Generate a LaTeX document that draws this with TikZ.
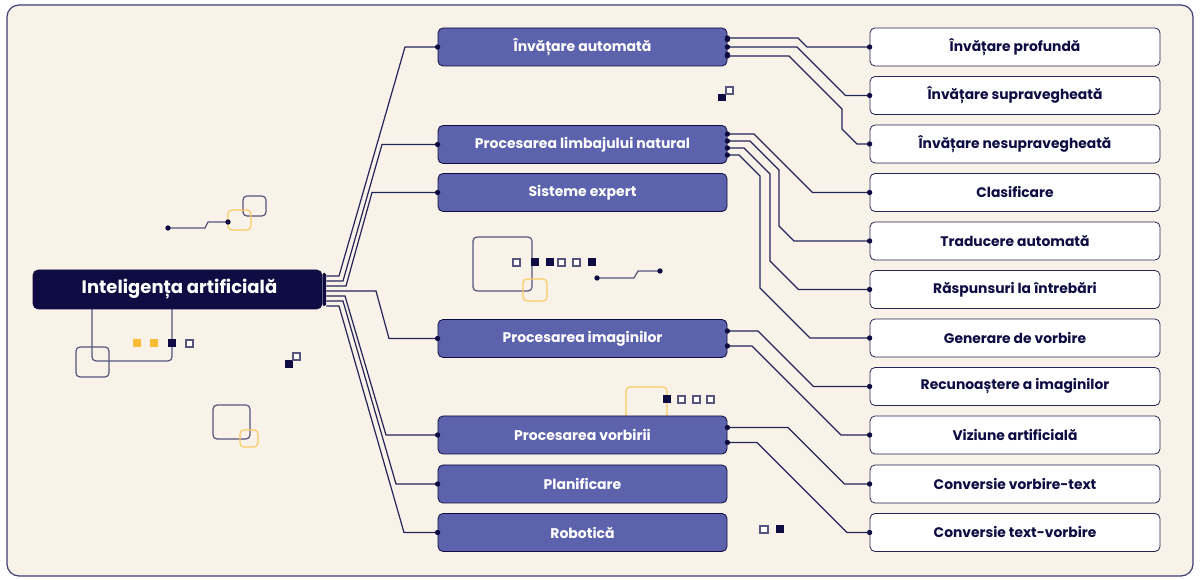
\documentclass[tikz,border=0pt]{standalone}
\usepackage{fontspec}
\setmainfont{Poppins}
\usetikzlibrary{calc}
\definecolor{navy}{HTML}{0E0C42}
\definecolor{cream}{HTML}{F9F2E8}
\definecolor{purp}{HTML}{5C62AB}
\definecolor{ylw}{HTML}{F9BC35}
\definecolor{ylwl}{HTML}{FACB63}
\definecolor{linec}{HTML}{25245A}
\definecolor{framec}{HTML}{3D3C73}
\definecolor{decoc}{HTML}{56557E}
\begin{document}
\begin{tikzpicture}[x=0.75pt,y=-0.75pt,
 rootbox/.style={fill=navy, draw=navy, rounded corners=3.75pt, minimum width=216.75pt, minimum height=29.25pt, inner sep=0pt, text=white, font=\bfseries\fontsize{13.5}{16}\selectfont},
 midbox/.style={fill=purp, draw=navy, line width=0.6pt, rounded corners=3.75pt, minimum width=216.75pt, minimum height=28.5pt, inner sep=0pt, text=white, font=\bfseries\fontsize{10.5}{13}\selectfont},
 leafbox/.style={fill=white, draw=navy!90, line width=0.6pt, rounded corners=3.75pt, minimum width=217.5pt, minimum height=28.5pt, inner sep=0pt, text=navy, font=\bfseries\fontsize{10.4}{12.5}\selectfont},
 conn/.style={draw=linec, line width=0.9pt},
 dot/.style={fill=navy},
 deco/.style={draw=decoc, line width=0.9pt, rounded corners=3pt},
 decoy/.style={draw=ylwl, line width=0.9pt, rounded corners=3pt},
 sqf/.style={fill=navy},
 sqo/.style={draw=decoc, fill=white, line width=0.8pt},
 sqy/.style={fill=ylw},
]
\useasboundingbox (0,0) rectangle (1200,580);
\fill[white] (0,0) rectangle (1200,580);
\draw[draw=framec, fill=cream, line width=0.9pt, rounded corners=9pt] (7,5) rectangle (1193,576);

% decorations
\draw[deco] (243,196) rectangle (266,216);
\draw[decoy] (228,210) rectangle (251,230);
\draw[deco, rounded corners=0pt] (168,228) -- (205,228) -- (208,222) -- (228,222);
\fill[navy] (168,228) circle[radius=2pt] (228,222) circle[radius=2pt];

\draw[deco] (92,305) -- (92,361) -- (172,361) -- (172,305);
\draw[deco] (76,347) rectangle (109,377);
\fill[sqy] (133,339) rectangle (141,347);
\fill[sqy] (150,339) rectangle (158,347);
\fill[sqf] (168,339) rectangle (176,347);
\draw[sqo] (186,340) rectangle (193,347);

\fill[sqf] (285,360) rectangle (293,368);
\draw[sqo] (293,353) rectangle (300,360);

\draw[deco] (213,405) rectangle (250,439);
\draw[decoy] (240,430) rectangle (258,447);

\draw[deco] (473,237) rectangle (532,291);
\draw[decoy] (523,279) rectangle (547,301);
\draw[sqo] (513,259) rectangle (520,266);
\fill[sqf] (531,258.5) rectangle (538.5,266);
\fill[sqf] (546,258.5) rectangle (553.5,266);
\draw[sqo] (558,259) rectangle (565,266);
\draw[sqo] (573,259) rectangle (580,266);
\fill[sqf] (588,258.5) rectangle (595.5,266);
\draw[deco, rounded corners=0pt] (597,278) -- (634,278) -- (638,271) -- (660,271);
\fill[navy] (597,278) circle[radius=2pt] (660,271) circle[radius=2pt];

\fill[sqf] (718,94) rectangle (726,101.5);
\draw[sqo] (726,87) rectangle (733,94);

\draw[decoy] (626,387) rectangle (667,430);
\fill[sqf] (663,395.5) rectangle (671,403);
\draw[sqo] (678,396) rectangle (685,403);
\draw[sqo] (693,396) rectangle (700,403);
\draw[sqo] (707,396) rectangle (714,403);

\draw[sqo] (760,526) rectangle (768,533);
\fill[sqf] (776,525.5) rectangle (784,533);

% nodes
\node[rootbox] (root) at (177.5,289.5) {\hspace*{3pt}Inteligența artificială};
\fill[navy, rounded corners=1pt] (322.5,273) rectangle (326,306);

\node[midbox] (m1) at (582.5,47) {Învățare automată};
\node[midbox] (m2) at (582.5,144.5) {Procesarea limbajului natural};
\node[midbox] (m3) at (582.5,192.5) {Sisteme expert};
\node[midbox] (m4) at (582.5,338.5) {Procesarea imaginilor};
\node[midbox] (m5) at (582.5,435) {Procesarea vorbirii};
\node[midbox] (m6) at (582.5,484) {Planificare};
\node[midbox] (m7) at (582.5,532.5) {Robotică};

\node[leafbox] (l1) at (1015,47) {Învățare profundă};
\node[leafbox] (l2) at (1015,95.5) {Învățare supravegheată};
\node[leafbox] (l3) at (1015,144) {Învățare nesupravegheată};
\node[leafbox] (l4) at (1015,192.5) {Clasificare};
\node[leafbox] (l5) at (1015,241) {Traducere automată};
\node[leafbox] (l6) at (1015,289.5) {Răspunsuri la întrebări};
\node[leafbox] (l7) at (1015,338) {Generare de vorbire};
\node[leafbox] (l8) at (1015,386.5) {Recunoaștere a imaginilor};
\node[leafbox] (l9) at (1015,435) {Viziune artificială};
\node[leafbox] (l10) at (1015,484) {Conversie vorbire-text};
\node[leafbox] (l11) at (1015,532.5) {Conversie text-vorbire};

% root connectors
\draw[conn] ($(root.east)+(4,-13.5)$) -- (339,276) -- (405,47) -- (m1.west);
\draw[conn] ($(root.east)+(4,-8.5)$) -- (343,281) -- (382,144.5) -- (m2.west);
\draw[conn] ($(root.east)+(4,-3.5)$) -- (346,286) -- (372,192.5) -- (m3.west);
\draw[conn] ($(root.east)+(4,1.5)$) -- (376,291) -- (389,338.5) -- (m4.west);
\draw[conn] ($(root.east)+(4,6.5)$) -- (345,296) -- (386,435) -- (m5.west);
\draw[conn] ($(root.east)+(4,11.5)$) -- (343,301) -- (396,484) -- (m6.west);
\draw[conn] ($(root.east)+(4,16.5)$) -- (339,306) -- (404,532.5) -- (m7.west);
\foreach \m in {m1,m2,m3,m4,m5,m6,m7} \fill[dot] (\m.west) circle[radius=2pt];

% leaf connectors
\draw[conn] ($(m1.east)+(0,-9)$) -- (798,38) -- (807,47) -- (l1.west);
\draw[conn] (m1.east) -- (797,47) -- (845.5,95.5) -- (l2.west);
\draw[conn] ($(m1.east)+(0,9)$) -- (789,56) -- (842,109) -- (842,129) -- (857,144) -- (l3.west);

\draw[conn] ($(m2.east)+(0,-10.5)$) -- (754,134) -- (812.5,192.5) -- (l4.west);
\draw[conn] ($(m2.east)+(0,-3.5)$) -- (750,141) -- (779,170) -- (779,226) -- (794,241) -- (l5.west);
\draw[conn] ($(m2.east)+(0,3.5)$) -- (744,148) -- (770,174) -- (770,261) -- (798.5,289.5) -- (l6.west);
\draw[conn] ($(m2.east)+(0,10.5)$) -- (739,155) -- (760,176) -- (760,288) -- (810,338) -- (l7.west);

\draw[conn] ($(m4.east)+(0,-7.5)$) -- (758,331) -- (813.5,386.5) -- (l8.west);
\draw[conn] ($(m4.east)+(0,7.5)$) -- (752,346) -- (841,435) -- (l9.west);

\draw[conn] ($(m5.east)+(0,-7.5)$) -- (788,427.5) -- (844.5,484) -- (l10.west);
\draw[conn] ($(m5.east)+(0,7.5)$) -- (757,442.5) -- (847,532.5) -- (l11.west);

\foreach \m in {m1,m4,m5} {\fill[dot] ($(\m.east)+(0,-7.5)$) circle[radius=2pt]; \fill[dot] ($(\m.east)+(0,7.5)$) circle[radius=2pt];}
\fill[dot] ($(m1.east)+(0,-9)$) circle[radius=2pt] (m1.east) circle[radius=2pt] ($(m1.east)+(0,9)$) circle[radius=2pt];
\foreach \o in {-10.5,-3.5,3.5,10.5} \fill[dot] ($(m2.east)+(0,\o)$) circle[radius=2pt];
\foreach \l in {l1,l2,l3,l4,l5,l6,l7,l8,l9,l10,l11} \fill[dot] (\l.west) circle[radius=2pt];
\end{tikzpicture}
\end{document}
